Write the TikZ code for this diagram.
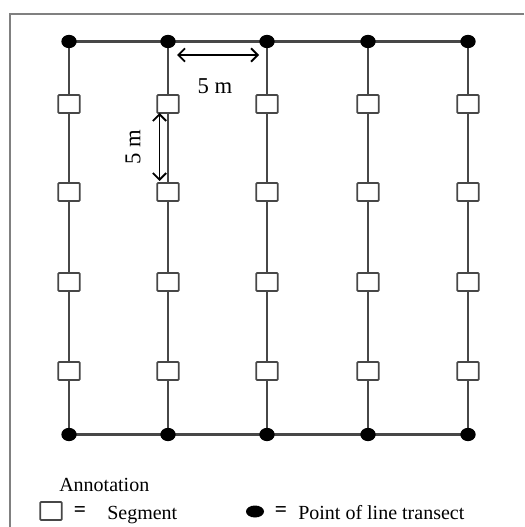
\documentclass[tikz,border=0pt]{standalone}
\usepackage{fontspec}
\setmainfont{Liberation Serif}
\usetikzlibrary{arrows.meta,shapes.geometric}
\begin{document}
\begin{tikzpicture}[x=0.75pt,y=-0.75pt,
  frameline/.style={draw=black!50, line width=1.6pt},
  gridline/.style={draw=black!72, line width=1.6pt},
  seg/.style={draw=black!72, fill=white, line width=1.3pt, rounded corners=0.6pt,
    minimum width=16pt, minimum height=13.5pt, inner sep=0pt},
  tdot/.style={fill=black, ellipse, minimum width=11.5pt, minimum height=10pt, inner sep=0pt},
  ldot/.style={fill=black, ellipse, minimum width=13.5pt, minimum height=9pt, inner sep=0pt},
  dim/.style={draw=black, line width=1.4pt, {Straight Barb[length=5pt,width=10pt]}-{Straight Barb[length=5pt,width=10pt]}},
  dimlabel/.style={font=\fontsize{17}{20}\selectfont, inner sep=0pt},
  legtext/.style={font=\fontsize{15}{18}\selectfont, inner sep=0pt},
]
\useasboundingbox (0,0) rectangle (524,527);
% frame
\coordinate (fa) at (524,14);
\coordinate (fb) at (10,14);
\coordinate (fc) at (10,527);
\draw[frameline] (fa) -- (fb) -- (fc);
% columns
\foreach \i/\x in {1/69,2/168,3/267,4/368,5/468}{
  \coordinate (t\i) at (\x,41.5);
  \coordinate (b\i) at (\x,434.5);
}
\draw[gridline] (t1) -- (t5);
\draw[gridline] (b1) -- (b5);
\foreach \i/\x in {1/69,2/168,3/267,4/368,5/468}{
  \draw[gridline] (t\i) -- (b\i);
  \foreach \j/\y in {1/104,2/192,3/282,4/371}{
    \node[seg] (s\i\j) at (\x,\y) {};
  }
}
\foreach \i in {1,...,5}{
  \node[tdot] (td\i) at (t\i) {};
  \node[tdot] (bd\i) at (b\i) {};
}
% dimensions
\coordinate (ha) at (177,55);
\coordinate (hb) at (259,55);
\draw[dim] (ha) -- (hb);
\node[dimlabel] (hl) at (215,86) {5 m};
\coordinate (va) at (159.5,113);
\coordinate (vb) at (159.5,181);
\draw[dim] (va) -- (vb);
\node[dimlabel, rotate=90] (vl) at (133,147) {5 m};
% legend
\node[legtext, anchor=base west] (ann) at (59,491.5) {Annotation};
\node[seg] (lsq) at (51,511) {};
\node[legtext, font=\fontsize{16}{18}\bfseries] (eq1) at (80,512) {=};
\node[legtext, anchor=base west] (segt) at (107,519) {Segment};
\node[ldot] (ldt) at (255,511.5) {};
\node[legtext, font=\fontsize{16}{18}\bfseries] (eq2) at (281,512) {=};
\node[legtext, anchor=base west] (pt) at (298,519) {Point of line transect};
\end{tikzpicture}
\end{document}
